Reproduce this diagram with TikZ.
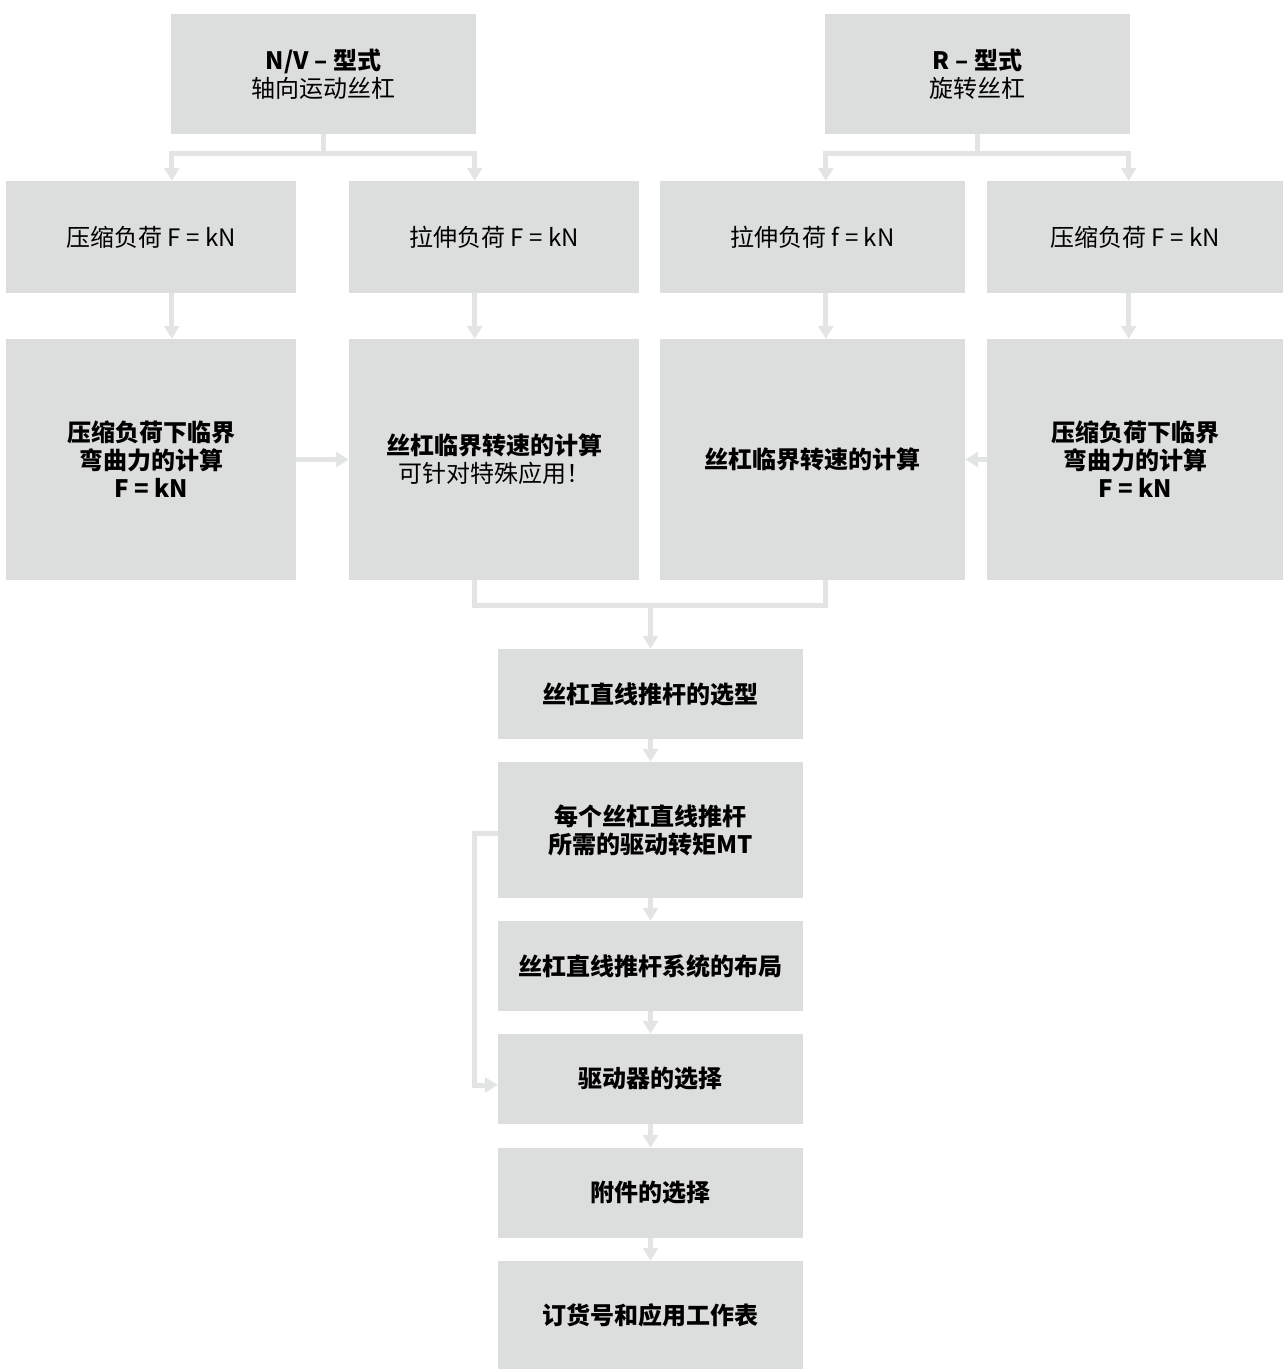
\documentclass[tikz,border=0pt]{standalone}
\usepackage{fontspec}
\setmainfont{Noto Sans CJK SC}
\usetikzlibrary{arrows.meta}
\definecolor{boxgray}{HTML}{DCDDDD}
\definecolor{linegray}{HTML}{E3E4E4}
\tikzset{
  box/.style={fill=boxgray, draw=none, inner sep=0pt, align=center,
    font=\fontsize{24}{28}\selectfont},
  bbox/.style={box, font=\fontsize{24}{28}\selectfont\bfseries},
  ln/.style={draw=linegray, line width=5pt},
  arr/.style={ln, -{Triangle[width=15pt,length=13pt]}},
}
\begin{document}
\begin{tikzpicture}[x=1pt,y=-1pt]
\useasboundingbox (0,0) rectangle (1283,1369);
% top
\node[box, minimum width=305pt, minimum height=120pt] (nv) at (323.5,74) {{\bfseries N/V – 型式}\\轴向运动丝杠};
\node[box, minimum width=305pt, minimum height=120pt] (r) at (977.5,74) {{\bfseries R – 型式}\\旋转丝杠};
% row 2
\node[box, minimum width=290pt, minimum height=112pt] (a2) at (151,237) {压缩负荷 F = kN};
\node[box, minimum width=290pt, minimum height=112pt] (b2) at (494,237) {拉伸负荷 F = kN};
\node[box, minimum width=305pt, minimum height=112pt] (c2) at (812.5,237) {拉伸负荷 f = kN};
\node[box, minimum width=296pt, minimum height=112pt] (d2) at (1135,237) {压缩负荷 F = kN};
% row 3
\node[bbox, minimum width=290pt, minimum height=241pt] (a3) at (151,459.5) {压缩负荷下临界\\弯曲力的计算\\F = kN};
\node[box, minimum width=290pt, minimum height=241pt] (b3) at (494,459.5) {{\bfseries 丝杠临界转速的计算}\\可针对特殊应用！};
\node[bbox, minimum width=305pt, minimum height=241pt] (c3) at (812.5,459.5) {丝杠临界转速的计算};
\node[bbox, minimum width=296pt, minimum height=241pt] (d3) at (1135,459.5) {压缩负荷下临界\\弯曲力的计算\\F = kN};
% column
\node[bbox, minimum width=305pt, minimum height=90pt] (sel) at (650.5,694) {丝杠直线推杆的选型};
\node[bbox, minimum width=305pt, minimum height=136pt] (mt) at (650.5,830) {每个丝杠直线推杆\\所需的驱动转矩MT};
\node[bbox, minimum width=305pt, minimum height=90pt] (lay) at (650.5,966) {丝杠直线推杆系统的布局};
\node[bbox, minimum width=305pt, minimum height=90pt] (drv) at (650.5,1079) {驱动器的选择};
\node[bbox, minimum width=305pt, minimum height=90pt] (acc) at (650.5,1193) {附件的选择};
\node[bbox, minimum width=305pt, minimum height=108pt] (ord) at (650.5,1315) {订货号和应用工作表};
% forks
\draw[arr] (nv.south) -- ++(0,19.5) -| ([xshift=1pt]nv.south west |- a2.north);
\draw[arr] (nv.south) -- ++(0,19.5) -| ([xshift=-1.5pt]nv.south east |- b2.north);
\draw[arr] (r.south) -- ++(0,19.5) -| ([xshift=1pt]r.south west |- c2.north);
\draw[arr] (r.south) -- ++(0,19.5) -| ([xshift=-1.5pt]r.south east |- d2.north);
% row 2 -> row 3
\draw[arr] ([xshift=1pt]nv.south west |- a2.south) -- ([xshift=1pt]nv.south west |- a3.north);
\draw[arr] ([xshift=-1.5pt]nv.south east |- b2.south) -- ([xshift=-1.5pt]nv.south east |- b3.north);
\draw[arr] ([xshift=1pt]r.south west |- c2.south) -- ([xshift=1pt]r.south west |- c3.north);
\draw[arr] ([xshift=-1.5pt]r.south east |- d2.south) -- ([xshift=-1.5pt]r.south east |- d3.north);
% horizontal
\draw[arr] (a3.east) -- (b3.west);
\draw[arr] (d3.west) -- (c3.east);
% merge
\draw[ln] ([xshift=-1.5pt]nv.south east |- b3.south) -- ++(0,25.5) -| ([xshift=1pt]r.south west |- c3.south);
\coordinate (mj) at (650.5,605.5);
\draw[arr] (mj) -- (sel.north);
% chain
\draw[arr] (sel.south) -- (mt.north);
\draw[arr] (mt.south) -- (lay.north);
\draw[arr] (lay.south) -- (drv.north);
\draw[arr] (drv.south) -- (acc.north);
\draw[arr] (acc.south) -- (ord.north);
% loop
\draw[arr] ([yshift=-3pt]mt.west) -- ++(-23,0) |- ([yshift=-6pt]drv.west);
\end{tikzpicture}
\end{document}
